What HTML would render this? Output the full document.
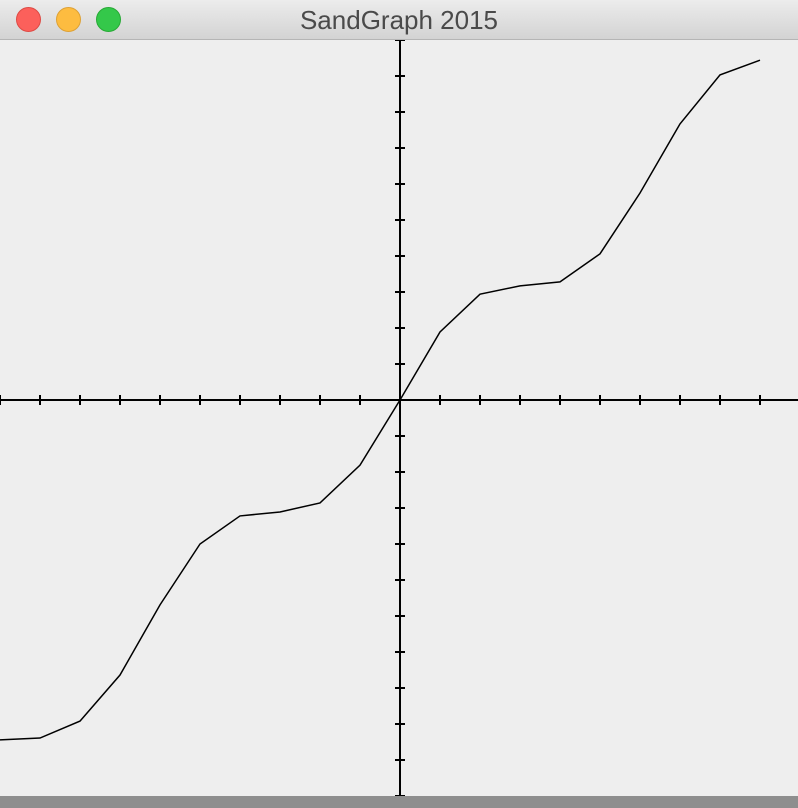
<!DOCTYPE html>
<html><head><meta charset="utf-8"><style>
body{margin:0;width:798px;height:808px;overflow:hidden;background:#8e8e8e;font-family:"Liberation Sans",sans-serif}
#bar{position:absolute;left:0;top:0;width:798px;height:39px;background:linear-gradient(#ececec,#d3d3d3);border-bottom:1px solid #b5b5b5}
.dot{position:absolute;top:7px;width:23px;height:23px;border-radius:50%}
#title{position:absolute;left:0;width:798px;top:5px;text-align:center;font-size:26px;color:#4a4a4a}
svg{position:absolute;left:0;top:40px}
</style></head><body>
<div id="bar">
<div class="dot" style="left:16px;background:#fc605b;border:1px solid #de4a44"></div>
<div class="dot" style="left:56px;background:#fdbc40;border:1px solid #dea134"></div>
<div class="dot" style="left:96px;background:#34c84a;border:1px solid #27aa35"></div>
<div id="title">SandGraph 2015</div>
</div>
<svg id="chart" width="798" height="756"></svg>
<script>
const xValues=[-10,-9,-8,-7,-6,-5,-4,-3,-2,-1,0,1,2,3,4,5,6,7,8,9];
const yValues=[-9.44,-9.39,-8.92,-7.64,-5.69,-4.0,-3.22,-3.11,-2.86,-1.81,0,1.89,2.94,3.17,3.28,4.06,5.75,7.67,9.03,9.44];
const xTicks=[-10,-9,-8,-7,-6,-5,-4,-3,-2,-1,1,2,3,4,5,6,7,8,9,10];
const yTicks=[-11,-10,-9,-8,-7,-6,-5,-4,-3,-2,-1,1,2,3,4,5,6,7,8,9,10];
const svg=document.getElementById('chart');const NS='http://www.w3.org/2000/svg';
const X=v=>400+v*40, Y=v=>360-v*36;
function el(t,a){const e=document.createElementNS(NS,t);for(const k in a)e.setAttribute(k,a[k]);svg.appendChild(e);return e;}
const bg=el('rect',{x:0,y:0,width:798,height:756,fill:'#eeeeee'});


const xa=el('line',{x1:0,y1:Y(0),x2:798,y2:Y(0),stroke:'#000','stroke-width':2});


const ya=el('line',{x1:X(0),y1:0,x2:X(0),y2:756,stroke:'#000','stroke-width':2});


xTicks.forEach(t=>{const l=el('line',{x1:X(t),y1:Y(0)-5,x2:X(t),y2:Y(0)+5,stroke:'#000','stroke-width':2});

});
yTicks.forEach(t=>{const l=el('line',{x1:X(0)-5,y1:Y(t),x2:X(0)+5,y2:Y(t),stroke:'#000','stroke-width':2});

});
const p=el('polyline',{points:xValues.map((x,i)=>X(x)+','+Y(yValues[i])).join(' '),fill:'none',stroke:'#000','stroke-width':1.5});


</script>
</body></html>
